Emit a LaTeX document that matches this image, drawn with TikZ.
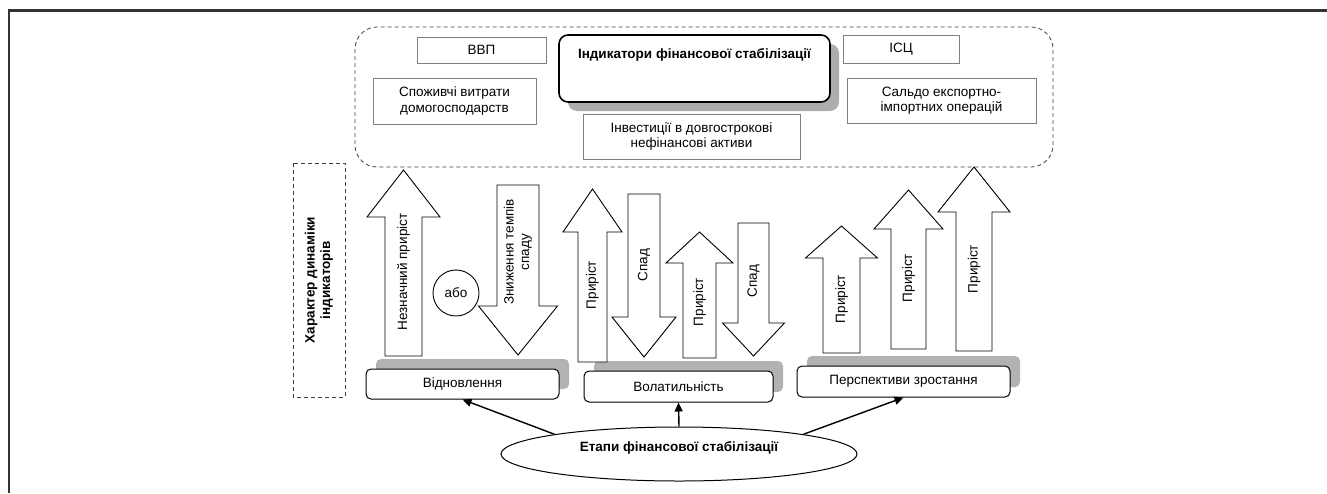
\documentclass[tikz,border=0pt]{standalone}
\usepackage{fontspec}
\setmainfont{Liberation Sans}
\usetikzlibrary{positioning,shadows,shapes.geometric,arrows.meta}
\tikzset{IndicatorBox/.style={%
    shape=rectangle,%
    draw=black!50,%
    line width=0.9pt,%
    align=center,%
    inner sep=0pt,%
}}
\tikzset{MainBox/.style={%
    shape=rectangle,%
    rounded corners=9pt,%
    draw=black,%
    fill=white,%
    line width=1.6pt,%
    inner sep=0pt,%
    font=\fontsize{13.5}{15.5}\selectfont\bfseries,%
    text height=10pt,%
    text depth=31pt,%
    drop shadow={shadow xshift=9pt,shadow yshift=-9pt,fill=black!32,opacity=1},%
}}
\tikzset{StageBox/.style={%
    shape=rectangle,%
    rounded corners=5pt,%
    draw=black,%
    fill=white,%
    line width=1pt,%
    inner sep=0pt,%
    drop shadow={shadow xshift=10pt,shadow yshift=10pt,fill=black!30,opacity=1},%
}}
\tikzset{StageEllipse/.style={%
    shape=ellipse,%
    draw=black,%
    line width=1pt,%
    inner sep=0pt,%
    minimum width=356pt,%
    minimum height=54pt,%
    font=\fontsize{13.5}{15.5}\selectfont\bfseries,%
    text height=10pt,%
    text depth=14.6pt,%
}}
\tikzset{GroupFrame/.style={%
    draw=black!75,%
    line width=0.8pt,%
    dash pattern=on 4pt off 3pt,%
}}
\tikzset{BigArrow/.style={%
    draw=black,%
    fill=white,%
    line width=0.9pt,%
    line join=miter,%
}}
\tikzset{ArrowText/.style={%
    rotate=90,%
    align=center,%
    inner sep=0pt,%
}}
\tikzset{Link/.style={%
    -{Triangle[length=9pt,width=8pt]},%
    line width=1.4pt,%
}}
% name, x of axis, tip, head base, tail, half shaft, half head, text y, text
\NewDocumentCommand{\bigArrow}{m m m m m m m m m}{%
    \draw[BigArrow] (#2-#6,#5) -- (#2-#6,#4) -- (#2-#7,#4) -- (#2,#3)
        -- (#2+#7,#4) -- (#2+#6,#4) -- (#2+#6,#5) -- cycle;%
    \node[ArrowText] (#1) at (#2,#8) {#9};%
}

\begin{document}
\begin{tikzpicture}[x=1pt,y=-1pt,every node/.append style={font=\fontsize{13.5}{15.5}\selectfont}]
    \useasboundingbox (0,0) rectangle (1327,493);
    \draw[line width=2.6pt, black!80] (9,493) -- (9,10.5) -- (1327,10.5);

    % indicators
    \draw[GroupFrame, rounded corners=22pt] (355,27) rectangle (1053,167);
    \node[MainBox, minimum width=271pt, minimum height=67pt] (main) at (694.5,68.5) {Індикатори фінансової стабілізації};
    \node[IndicatorBox, minimum width=129pt, minimum height=26pt] (vvp) at (481.5,50) {ВВП};
    \node[IndicatorBox, minimum width=163pt, minimum height=46pt] (spend) at (454.5,101) {Споживчі витрати\\домогосподарств};
    \node[IndicatorBox, minimum width=217pt, minimum height=45pt, below=11pt of main, xshift=-3pt] (invest) {Інвестиції в довгострокові\\нефінансові активи};
    \node[IndicatorBox, minimum width=116pt, minimum height=28pt] (isc) at (901,49) {ІСЦ};
    \node[IndicatorBox, minimum width=189pt, minimum height=45pt] (saldo) at (941.5,100.5) {Сальдо експортно-\\імпортних операцій};

    % dynamics
    \node[GroupFrame, rotate=90, align=center, inner sep=0pt, minimum width=234pt, minimum height=52pt,
        font=\fontsize{13.5}{15.5}\selectfont\bfseries] (dyn) at (319,280) {Характер динаміки\\індикаторів};

    % stages
    \node[StageBox, minimum width=193pt, minimum height=30pt] (vidn) at (462.5,384) {Відновлення};
    \node[StageBox, minimum width=189pt, minimum height=31pt] (volat) at (678.5,386.5) {Волатильність};
    \node[StageBox, minimum width=213pt, minimum height=31pt] (persp) at (903.5,381.5) {Перспективи зростання};

    \bigArrow{a1}{403.5}{170}{217}{356}{18.5}{36.5}{272}{Незначний приріст}
    \bigArrow{a2}{518}{355}{306}{185}{21}{39.5}{252}{Зниження темпів\\спаду}
    \node[draw, circle, line width=0.9pt, fill=white, minimum size=46pt, inner sep=0pt] (abo) at (456,293) {або};

    \bigArrow{a3}{592.5}{189}{232}{362}{14.5}{29.5}{285}{Приріст}
    \bigArrow{a4}{644}{357}{317}{194}{16}{32}{265}{Спад}
    \bigArrow{a5}{699.5}{232}{263}{358}{16.5}{33.5}{302}{Приріст}
    \bigArrow{a6}{753.5}{356}{323}{223}{15.5}{31}{281}{Спад}

    \bigArrow{a7}{841.5}{226}{258}{353}{18.5}{36}{299}{Приріст}
    \bigArrow{a8}{908.5}{190}{229}{349}{17.5}{34.5}{278}{Приріст}
    \bigArrow{a9}{974}{167}{212}{351}{18}{36}{269}{Приріст}

    \node[StageEllipse] (etapy) at (679,454) {Етапи фінансової стабілізації};

    \draw[Link] (etapy.171) -- (vidn.south);
    \draw[Link] (etapy.north) -- (volat.south);
    \draw[Link] (etapy.9) -- (persp.south);
\end{tikzpicture}
\end{document}
